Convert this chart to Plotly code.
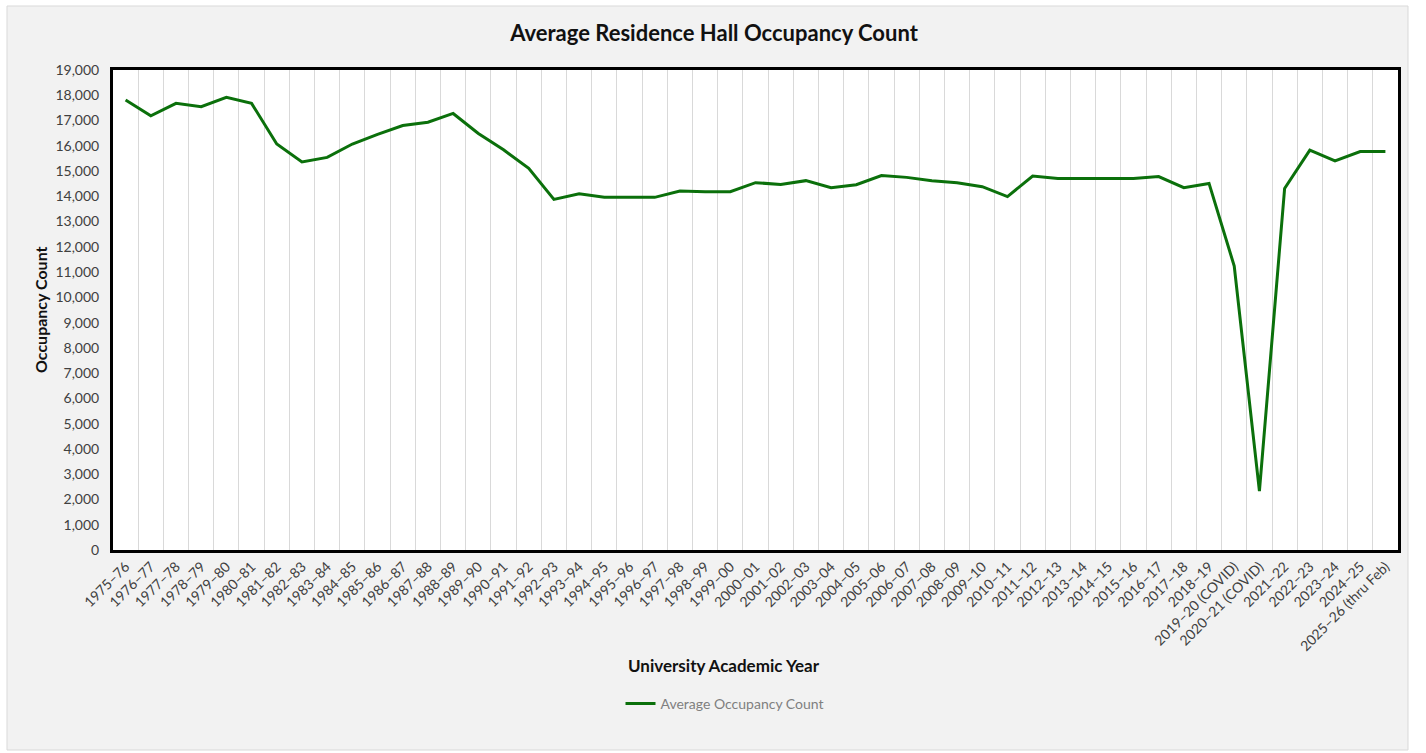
import plotly.graph_objects as go

years = ["1975–76", "1976–77", "1977–78", "1978–79", "1979–80", "1980–81", "1981–82", "1982–83",
         "1983–84", "1984–85", "1985–86", "1986–87", "1987–88", "1988–89", "1989–90", "1990–91",
         "1991–92", "1992–93", "1993–94", "1994–95", "1995–96", "1996–97", "1997–98", "1998–99",
         "1999–00", "2000–01", "2001–02", "2002–03", "2003–04", "2004–05", "2005–06", "2006–07",
         "2007–08", "2008–09", "2009–10", "2010–11", "2011–12", "2012–13", "2013–14", "2014–15",
         "2015–16", "2016–17", "2017–18", "2018–19", "2019–20 (COVID)", "2020–21 (COVID)",
         "2021–22", "2022–23", "2023–24", "2024–25", "2025–26 (thru Feb)"]

occupancy = [17810, 17190, 17680, 17550, 17920, 17680, 16070, 15360,
             15540, 16070, 16450, 16800, 16930, 17280, 16490, 15840,
             15110, 13880, 14100, 13960, 13960, 13960, 14210, 14180,
             14180, 14540, 14470, 14620, 14340, 14460, 14820, 14750,
             14620, 14540, 14380, 13990, 14800, 14710, 14710, 14710,
             14710, 14780, 14340, 14510, 11240, 2330,
             14310, 15830, 15400, 15770, 15770]

FONT = "Lato, Calibri, Carlito, sans-serif"
W, H = 1426, 753
L, R, T, B = 113, 28, 70, 203
pw, ph = W - L - R, H - T - B


def px_x(x):
    return (x - L) / pw


def px_y(y):
    return (H - B - y) / ph


fig = go.Figure()
fig.add_trace(go.Scatter(
    x=years, y=occupancy, mode="lines", name="Average Occupancy Count",
    line=dict(color="#0b700b", width=3),
))

fig.update_layout(
    width=W, height=H,
    margin=dict(l=L, r=R, t=T, b=B),
    paper_bgcolor="white",
    plot_bgcolor="white",
    font=dict(family=FONT, color="#404040"),
    title=dict(text="<b>Average Residence Hall Occupancy Count</b>",
               x=714 / W, xanchor="center", xref="container", y=1 - 33 / H, yanchor="middle",
               font=dict(size=22, color="#111111", family=FONT)),
    showlegend=True,
    legend=dict(orientation="h", x=px_x(725), xanchor="center", y=px_y(704), yanchor="middle",
                font=dict(size=14, color="#7f7f7f", family=FONT), bgcolor="rgba(0,0,0,0)"),
    shapes=[
        dict(type="rect", xref="paper", yref="paper", x0=px_x(7), x1=px_x(1408), y0=px_y(750), y1=px_y(6),
             fillcolor="#f2f2f2", line=dict(color="#d9d9d9", width=1), layer="below"),
        dict(type="rect", xref="paper", yref="paper", x0=0, x1=1, y0=0, y1=1,
             fillcolor="white", line=dict(width=0), layer="below"),
    ],
    annotations=[
        dict(text="<b>University Academic Year</b>", xref="paper", yref="paper",
             x=px_x(724), y=px_y(665), xanchor="center", yanchor="middle", showarrow=False,
             font=dict(size=17, color="#111111", family=FONT)),
        dict(text="<b>Occupancy Count</b>", xref="paper", yref="paper",
             x=px_x(40), y=px_y(310), xanchor="center", yanchor="middle", showarrow=False,
             textangle=-90, font=dict(size=16, color="#111111", family=FONT)),
    ],
)

fig.update_xaxes(
    type="category", tickangle=-45, tickson="boundaries",
    showgrid=True, gridcolor="#d9d9d9", gridwidth=1,
    showline=True, linecolor="black", linewidth=3, mirror=True,
    ticks="", tickfont=dict(size=14, color="#404040", family=FONT),
    range=[-0.5, len(years) - 0.5],
)
fig.update_yaxes(
    range=[0, 19000], dtick=1000, tickformat=",",
    showgrid=False, zeroline=False,
    showline=True, linecolor="black", linewidth=3, mirror=True,
    ticks="", ticklabelstandoff=8, tickfont=dict(size=14, color="#404040", family=FONT),
)

fig.write_html("out.html")
